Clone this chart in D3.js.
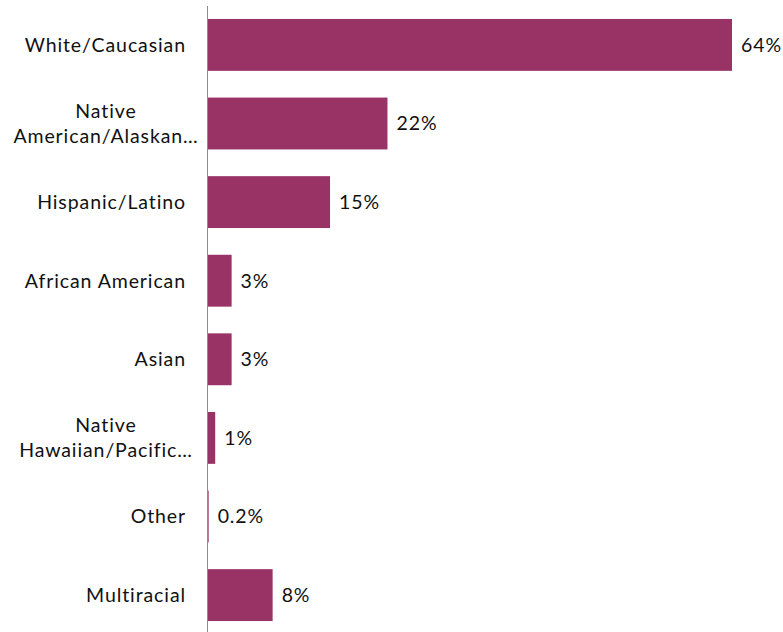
<!DOCTYPE html>
<html>
<head>
<meta charset="utf-8">
<script src="https://cdn.jsdelivr.net/npm/d3@7"></script>
<style>
  html, body { margin: 0; padding: 0; background: #fff; }
  svg { display: block; }
  text { font-family: Lato, "Open Sans", sans-serif; fill: #111; letter-spacing: 0.9px; }
</style>
</head>
<body>
<svg id="chart" width="783" height="632"></svg>
<script>
// Race / ethnicity breakdown, share of respondents (%)
const categories = [
  ["White/Caucasian"],
  ["Native", "American/Alaskan…"],
  ["Hispanic/Latino"],
  ["African American"],
  ["Asian"],
  ["Native", "Hawaiian/Pacific…"],
  ["Other"],
  ["Multiracial"]
];
const values = [64, 22, 15, 3, 3, 1, 0.2, 8];
const valueLabels = ["64%", "22%", "15%", "3%", "3%", "1%", "0.2%", "8%"];

const svg = d3.select("#chart");
const barColor = "#993366";
const fontSize = 19.5;

const x = d3.scaleLinear().domain([0, 64]).range([207, 732]);
const y = d3.scaleBand()
  .domain(d3.range(categories.length))
  .range([5.6, 5.6 + 8 * 78.6])
  .paddingInner(0.34)
  .paddingOuter(0.17);

// bars
svg.append("g").selectAll("rect")
  .data(values)
  .join("rect")
  .attr("x", x(0))
  .attr("y", (d, i) => y(i))
  .attr("width", d => Math.max(0, x(d) - x(0)))
  .attr("height", y.bandwidth())
  .attr("fill", barColor);

// value labels
svg.append("g").selectAll("text")
  .data(values)
  .join("text")
  .attr("x", d => x(d) + 9)
  .attr("y", (d, i) => y(i) + y.bandwidth() / 2)
  .attr("dy", "0.35em")
  .style("font-size", fontSize + "px")
  .text((d, i) => valueLabels[i]);

// category labels
const lab = svg.append("g");
categories.forEach((lines, i) => {
  const cy = y(i) + y.bandwidth() / 2;
  if (lines.length === 1) {
    lab.append("text")
      .attr("x", 186)
      .attr("y", cy)
      .attr("dy", "0.35em")
      .attr("text-anchor", "end")
      .style("font-size", fontSize + "px")
      .text(lines[0]);
  } else {
    const lh = 25;
    lines.forEach((t, j) => {
      lab.append("text")
        .attr("x", 106)
        .attr("y", cy + (j - (lines.length - 1) / 2) * lh)
        .attr("dy", "0.35em")
        .attr("text-anchor", "middle")
        .style("font-size", fontSize + "px")
        .text(t);
    });
  }
});

// category axis line
svg.append("line")
  .attr("x1", x(0) + 0.5).attr("x2", x(0) + 0.5)
  .attr("y1", 6).attr("y2", 632)
  .attr("stroke", "#8c8c8c")
  .attr("stroke-width", 1);
</script>
</body>
</html>
